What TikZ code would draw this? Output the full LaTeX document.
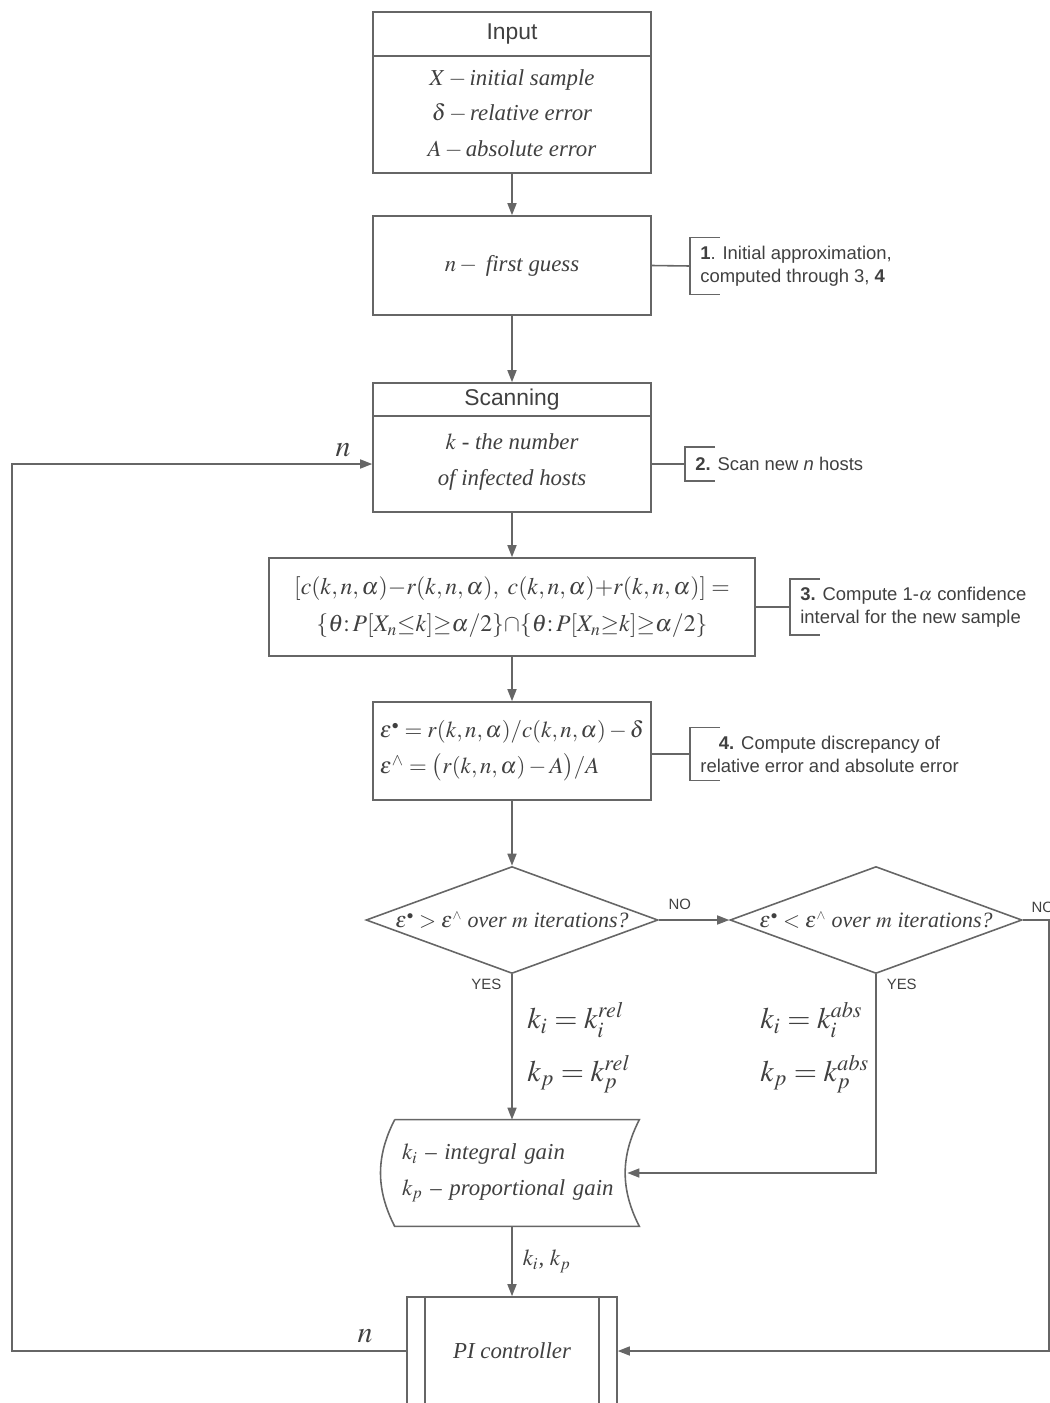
\documentclass[tikz,border=0pt]{standalone}
\usepackage{mathptmx}
\usepackage{fontspec}
\setmainfont{Liberation Serif}
\setsansfont{Liberation Sans}
\usetikzlibrary{arrows.meta,shapes.geometric}
\colorlet{ln}{black!60}
\colorlet{tx}{black!75}
\tikzset{every node/.style={text=tx,inner sep=0pt},
line/.style={draw=ln,line width=0.9pt},
arr/.style={line,-{Triangle[length=2.4mm,width=1.8mm]}},
box/.style={line,minimum width=5.56cm},
body/.style={font=\fontsize{13}{20.4}\selectfont\itshape,align=center},
head/.style={font=\fontsize{13}{15}\selectfont\sffamily},
note/.style={font=\fontsize{10.5}{13}\selectfont\sffamily,align=left,inner xsep=0.2cm,anchor=west},
dec/.style={diamond,line,minimum width=5.84cm,minimum height=2.14cm,font=\fontsize{12.5}{14}\selectfont\itshape},
yn/.style={font=\fontsize{8.5}{10}\selectfont\sffamily},
kk/.style={font=\fontsize{17}{30}\selectfont,align=left,anchor=west},
nn/.style={font=\fontsize{17}{17}\selectfont}}
\begin{document}
\begin{tikzpicture}[x=0.02cm,y=-0.02cm]
\useasboundingbox (0,0) rectangle (1050,1403);
\node[box,minimum height=3.22cm] (inp) at (512,92.5) {};
\node[head] (inph) at (512,34) {Input};
\draw[line] ([yshift=-0.9cm]inp.north west) -- ([yshift=-0.9cm]inp.north east);
\node[body] (inpt) at (512,114) {$X-{}$initial sample\\$\delta-{}$relative error\\$A-{}$absolute error};
\node[box,body,minimum height=1.98cm] (fg) at (512,265.5) {$n-{}$ first guess};
\node[note,minimum height=1.12cm] (a1) at (690,266) {\textbf{1}. Initial approximation,\\computed through 3, \textbf{4}};
\node[box,minimum height=2.58cm] (scan) at (512,447.5) {};
\node[head] (scanh) at (512,400) {Scanning};
\draw[line] ([yshift=-0.68cm]scan.north west) -- ([yshift=-0.68cm]scan.north east);
\node[body] (scant) at (512,462) {$k$ - the number\\of infected hosts};
\coordinate (scin) at ([yshift=-0.33cm]scan.west);
\node[note,minimum height=0.66cm] (a2) at (685,464) {\textbf{2.} Scan new \textit{n} hosts};
\node[line,body,font=\fontsize{13.5}{21.5}\selectfont,minimum width=9.72cm,minimum height=1.96cm] (ci) at (512,607) {$[c(k,n,\alpha){-}r(k,n,\alpha),\ c(k,n,\alpha){+}r(k,n,\alpha)]=$\\$\{\theta{:}\,P[X_n{\le}k]{\ge}\alpha/2\}{\cap}\{\theta{:}\,P[X_n{\ge}k]{\ge}\alpha/2\}$};
\node[note,minimum height=1.1cm] (a3) at (790,607) {\textbf{3.} Compute 1-$\alpha$ confidence\\interval for the new sample};
\node[box,body,align=left,minimum height=1.96cm] (eps) at (512,751) {$\varepsilon^{\scriptscriptstyle\bullet}=r(k,n,\alpha)/c(k,n,\alpha)-\delta$\\$\varepsilon^{\wedge}=\bigl(r(k,n,\alpha)-A\bigr)/A$};
\node[note,align=center,minimum height=1.04cm] (a4) at (690,754) {\textbf{4.} Compute discrepancy of\\relative error and absolute error};
\node[dec] (d1) at (512,920) {\makebox[0pt]{$\varepsilon^{\scriptscriptstyle\bullet}>\varepsilon^{\scriptscriptstyle\wedge}$ over $m$ iterations?}};
\node[dec] (d2) at (876,920) {\makebox[0pt]{$\varepsilon^{\scriptscriptstyle\bullet}<\varepsilon^{\scriptscriptstyle\wedge}$ over $m$ iterations?}};
\node[kk] (krel) at (527,1048) {$k_i=k_i^{rel}$\\$k_p=k_p^{rel}$};
\node[kk] (kabs) at (760,1048) {$k_i=k_i^{abs}$\\$k_p=k_p^{abs}$};
\node[body,align=left,text width=4.6cm,minimum width=4.88cm,minimum height=2.12cm] (gain) at (517,1173) {$k_i$ -- integral gain\\$k_p$ -- proportional gain};
\draw[line] (gain.north west) -- (gain.north east) to[bend right=27] (gain.south east) -- (gain.south west) to[bend left=27] (gain.north west);
\node[box,body,minimum width=4.2cm,minimum height=2.16cm] (pi) at (512,1351) {PI controller};
\draw[line] ([xshift=0.38cm]pi.north west) -- ([xshift=0.38cm]pi.south west);
\draw[line] ([xshift=-0.38cm]pi.north east) -- ([xshift=-0.38cm]pi.south east);
\coordinate (lc) at (12,900);
\coordinate (rc) at (1049,1100);
\node[nn] (n1) at (343,450) {$n$};
\node[nn] (n2) at (365,1336) {$n$};
\draw[arr] (inp) -- (fg);
\draw[arr] (fg) -- (scan);
\draw[arr] (scan) -- (ci);
\draw[arr] (ci) -- (eps);
\draw[arr] (eps) -- (d1);
\draw[line] (fg.east) -- (a1.west);
\draw[line] (a2.west) -- (a2.west -| scan.east);
\draw[line] (ci.east) -- (a3.west);
\draw[line] (eps.east |- a4.west) -- (a4.west);
\draw[line] ([xshift=0.6cm]a1.north west) -- (a1.north west) -- (a1.south west) -- ([xshift=0.6cm]a1.south west);
\draw[line] ([xshift=0.6cm]a2.north west) -- (a2.north west) -- (a2.south west) -- ([xshift=0.6cm]a2.south west);
\draw[line] ([xshift=0.6cm]a3.north west) -- (a3.north west) -- (a3.south west) -- ([xshift=0.6cm]a3.south west);
\draw[line] ([xshift=0.6cm]a4.north west) -- (a4.north west) -- (a4.south west) -- ([xshift=0.6cm]a4.south west);
\draw[arr] (d1.east) -- (d2.west) node[yn,pos=0.3,above=0.2cm] {NO};
\draw[arr] (d2.east) node[yn,anchor=south west,xshift=0.16cm,yshift=0.14cm] {NO} -| (rc) |- (pi.east);
\draw[arr] (d1.south) node[yn,anchor=north east,xshift=-0.2cm,yshift=-0.08cm] {YES} -- (d1.south |- gain.north);
\draw[arr] (d2.south) node[yn,anchor=north west,xshift=0.2cm,yshift=-0.08cm] {YES} |- ([xshift=-0.24cm]gain.east);
\draw[arr] (d1.south |- gain.south) -- (pi.north) node[body,midway,right=0.2cm] {$k_i$, $k_p$};
\draw[arr] (pi.west) -| (lc) |- (scin);
\end{tikzpicture}
\end{document}
